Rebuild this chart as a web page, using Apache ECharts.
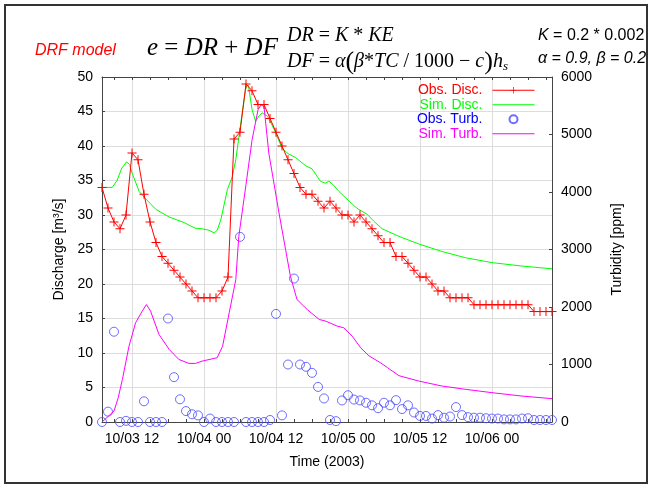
<!DOCTYPE html>
<html>
<head>
<meta charset="utf-8">
<script src="https://cdn.jsdelivr.net/npm/echarts@6/dist/echarts.min.js"></script>
<style>
  html, body { margin: 0; padding: 0; background: #fff; }
  #chart { width: 653px; height: 490px; }
</style>
</head>
<body>
<div id="chart"></div>
<script>
// Time axis: hours counted from 2003-10-03 00:00
const firstObsHour = 7;

// Hourly observed discharge [m3/s], from 10/03 07:00
const obsDischarge = [
  34, 31, 29, 28, 30, 39, 38, 33, 29, 26, 24, 23, 22, 21, 20, 19, 18, 18, 18, 18,
  19, 21, 41, 42, 49, 48, 46, 46, 44, 42, 40, 38, 36, 34, 33, 33, 32, 31, 32, 31,
  30, 30, 29, 30, 29, 28, 27, 26, 26, 24, 24, 23, 22, 21, 21, 20, 19, 19, 18, 18,
  18, 18, 17, 17, 17, 17, 17, 17, 17, 17, 17, 17, 16, 16, 16, 16
];

// Hourly observed turbidity [ppm], from 10/03 07:00
const obsTurbidity = [
  0, 180, 1570, 0, 20, 0, 0, 360, 0, 0, 0, 1800, 780, 395, 190, 135, 115, 0, 60, 0,
  0, 0, 0, 3220, 0, 0, 0, 0, 35, 1880, 115, 1000, 2495, 1000, 960, 855, 610, 410, 35, 15,
  375, 465, 390, 375, 335, 290, 240, 335, 290, 380, 225, 290, 165, 105, 105, 60, 120, 75, 95, 260,
  120, 85, 75, 75, 65, 60, 60, 45, 45, 45, 60, 65, 35, 35, 35, 35
];

// Simulated discharge [hour, m3/s]
const simDischarge = [
  [7, 34], [8.7, 34], [9.5, 35], [10.3, 36.8], [11.1, 37.7], [11.6, 37.3], [12, 36.1], [13.2, 33.4],
  [14, 32.6], [15, 31.7], [16, 30.8], [18.2, 29.7], [20.7, 28.9], [21.8, 28.4], [22.5, 28.1],
  [23.7, 28.0], [24.8, 27.8], [25.7, 27.4], [26.2, 27.8], [26.8, 29.3], [27.9, 33.7], [28.7, 35.5],
  [29.3, 38], [29.8, 41.2], [30.4, 45], [31, 48.6], [31.4, 48.8], [32, 45.3], [32.6, 43.6],
  [33.2, 44.4], [33.7, 44.8], [34.6, 44.3], [35.7, 42.4], [37, 39.7], [38, 38.9], [39.3, 38.3],
  [41, 37.1], [42, 36.7], [43.4, 34.9], [44.2, 34.6], [44.8, 34.9], [45.5, 34.4], [46.5, 33.4],
  [48.2, 32.0], [49.2, 31.2], [49.8, 30.8], [51.2, 30.1], [52.3, 29.1], [53.7, 28.0], [56.5, 26.9],
  [59.8, 25.8], [63.7, 24.7], [67.6, 23.8], [72, 23.1], [77, 22.6], [82, 22.2]
];

// Simulated turbidity [hour, ppm]
const simTurbidity = [
  [7, 0], [7.5, 47], [9, 191], [9.7, 420], [10.4, 741], [11.5, 1319], [12.6, 1726], [13.7, 1927],
  [14.4, 2043], [15.1, 1927], [16.5, 1522], [18.2, 1262], [19.8, 1088], [21.5, 1019], [22.6, 1019],
  [23.7, 1059], [26.2, 1118], [27.1, 1319], [28.2, 1899], [29.3, 2477], [29.8, 3229], [31, 4130],
  [32, 4900], [33, 5429], [33.5, 5516], [34, 5486], [34.8, 4677], [36.5, 3635], [37.6, 2998],
  [38.4, 2535], [39.5, 2130], [41.2, 1956], [43.2, 1783], [44.3, 1754], [46.2, 1667], [47.3, 1639],
  [48.7, 1493], [50.1, 1292], [51.5, 1150], [53.4, 1031], [54.6, 944], [56.5, 805], [59.8, 712],
  [63.7, 625], [67.6, 568], [72, 510], [77, 451], [82, 406]
];

// Labelled times and their text
const timeTicks = [12, 24, 36, 48, 60, 72];
const timeLabels = ['10/03 12', '10/04 00', '10/04 12', '10/05 00', '10/05 12', '10/06 00'];
// Small ticks every three hours
const minorTimeTicks = [9, 12, 15, 18, 21, 24, 27, 30, 33, 36, 39, 42, 45, 48, 51, 54, 57, 60, 63, 66, 69, 72, 75, 78, 81];

const seriesNames = ['Obs. Disc.', 'Sim. Disc.', 'Obs. Turb.', 'Sim. Turb.'];
const seriesColors = ['#ff0000', '#00ff00', '#0000ff', '#ff00ff'];

const SANS = '"Liberation Sans", Arial, Helvetica, sans-serif';
const SERIF = '"Liberation Serif", "Times New Roman", serif';
const AXIS_COLOR = '#444';
const GRID_COLOR = '#dddddd';
const CIRCLE_COLOR = '#4848ff';

const withHours = values => values.map((v, i) => [firstObsHour + i, v]);

const chart = echarts.init(document.getElementById('chart'), null, { renderer: 'canvas' });

const labelStyle = { color: '#000', fontSize: 14, fontFamily: SANS };
const nameStyle = { color: '#000', fontSize: 14, fontFamily: SANS };

const serifRich = size => ({
  i: { fontFamily: SERIF, fontStyle: 'italic', fontSize: size, fill: '#000' },
  n: { fontFamily: SERIF, fontSize: size, fill: '#000' },
  p: { fontFamily: SERIF, fontSize: size + 6, fill: '#000' },
  s: { fontFamily: SERIF, fontStyle: 'italic', fontSize: size - 7, fill: '#000', padding: [10, 0, 0, 0] }
});

// Legend entries: line-only entries hide the marker in their icon
const legendItems = seriesNames.map((name, i) => {
  const item = { name, textStyle: { color: seriesColors[i] } };
  if (i === 1 || i === 3) item.itemStyle = { opacity: 0 };
  return item;
});

const option = {
  animation: false,
  backgroundColor: '#fff',
  grid: { left: 102, right: 101, top: 77, bottom: 68, containLabel: false },
  legend: {
    orient: 'vertical',
    align: 'right',
    right: 118,
    top: 83,
    padding: 0,
    itemGap: 0,
    itemWidth: 42,
    itemHeight: 8,
    lineStyle: { width: 1 },
    textStyle: { fontSize: 14, fontFamily: SANS, lineHeight: 14.5, padding: [0, 5, 0, 0] },
    data: legendItems
  },
  xAxis: [
    {
      type: 'value', min: 7, max: 82, position: 'bottom',
      axisLine: { show: true, onZero: false, lineStyle: { color: AXIS_COLOR, width: 1 } },
      axisTick: { show: false, customValues: timeTicks },
      axisLabel: {
        customValues: timeTicks, margin: 10, ...labelStyle,
        formatter: v => timeLabels[timeTicks.indexOf(v)] || ''
      },
      splitLine: { show: true, lineStyle: { color: GRID_COLOR, width: 1 } },
      name: 'Time (2003)', nameLocation: 'middle', nameGap: 33, nameTextStyle: nameStyle
    },
    {
      type: 'value', min: 7, max: 82, position: 'bottom',
      axisLine: { show: false, onZero: false },
      axisTick: { show: true, inside: true, length: 3, customValues: minorTimeTicks, lineStyle: { color: AXIS_COLOR } },
      axisLabel: { show: false }, splitLine: { show: false }
    },
    {
      type: 'value', min: 7, max: 82, position: 'top',
      axisLine: { show: true, onZero: false, lineStyle: { color: AXIS_COLOR, width: 1 } },
      axisTick: { show: true, inside: true, length: 3, customValues: minorTimeTicks, lineStyle: { color: AXIS_COLOR } },
      axisLabel: { show: false }, splitLine: { show: false }
    }
  ],
  yAxis: [
    {
      type: 'value', min: 0, max: 50, interval: 5, position: 'left',
      axisLine: { show: true, onZero: false, lineStyle: { color: AXIS_COLOR, width: 1 } },
      axisTick: { show: true, inside: true, length: 3, lineStyle: { color: AXIS_COLOR } },
      axisLabel: { margin: 9, ...labelStyle },
      splitLine: { show: true, lineStyle: { color: GRID_COLOR, width: 1 } },
      name: 'Discharge [m³/s]', nameLocation: 'middle', nameGap: 32, nameRotate: 90, nameTextStyle: nameStyle
    },
    {
      type: 'value', min: 0, max: 6000, interval: 1000, position: 'right',
      axisLine: { show: true, onZero: false, lineStyle: { color: AXIS_COLOR, width: 1 } },
      axisTick: { show: true, inside: true, length: 3, lineStyle: { color: AXIS_COLOR } },
      axisLabel: { margin: 9, ...labelStyle, formatter: v => String(v) },
      splitLine: { show: false },
      name: 'Turbidity [ppm]', nameLocation: 'middle', nameGap: 58, nameRotate: 90, nameTextStyle: nameStyle
    }
  ],
  series: [
    {
      name: seriesNames[0], type: 'line', xAxisIndex: 0, yAxisIndex: 0,
      data: withHours(obsDischarge),
      color: seriesColors[0],
      symbol: 'path://M0,4.45h10v1.1h-10z M4.45,0h1.1v10h-1.1z',
      symbolSize: 9, showAllSymbol: true,
      itemStyle: { color: seriesColors[0], borderWidth: 0 },
      lineStyle: { color: seriesColors[0], width: 1 },
      z: 4
    },
    {
      name: seriesNames[1], type: 'line', xAxisIndex: 0, yAxisIndex: 0,
      data: simDischarge, color: seriesColors[1],
      symbol: 'none', lineStyle: { color: seriesColors[1], width: 1 },
      z: 3
    },
    {
      name: seriesNames[2], type: 'scatter', xAxisIndex: 0, yAxisIndex: 1,
      data: withHours(obsTurbidity), color: seriesColors[2],
      symbol: 'circle', symbolSize: 9,
      itemStyle: { color: 'rgba(0,0,0,0)', borderColor: CIRCLE_COLOR, borderWidth: 1 },
      z: 2
    },
    {
      name: seriesNames[3], type: 'line', xAxisIndex: 0, yAxisIndex: 1,
      data: simTurbidity, color: seriesColors[3],
      symbol: 'none', lineStyle: { color: seriesColors[3], width: 1 },
      z: 3
    }
  ],
  graphic: [
    {
      type: 'rect', silent: true, z: -10,
      shape: { x: 5, y: 5, width: 642, height: 478 },
      style: { fill: 'none', stroke: '#333', lineWidth: 2 }
    },
    {
      type: 'text', x: 35, y: 51, silent: true,
      style: { text: 'DRF model', fill: '#ff0000', font: 'italic 16px ' + SANS, verticalAlign: 'middle' }
    },
    {
      type: 'text', x: 147, y: 48, silent: true,
      style: {
        text: '{i|e}{n| = }{i|DR}{n| + }{i|DF}',
        rich: serifRich(25), verticalAlign: 'middle'
      }
    },
    {
      type: 'text', x: 287, y: 36, silent: true,
      style: {
        text: '{i|DR}{n| = }{i|K}{n| * }{i|KE}',
        rich: serifRich(20), verticalAlign: 'middle'
      }
    },
    {
      type: 'text', x: 287, y: 62, silent: true,
      style: {
        text: '{i|DF}{n| = }{i|α}{p|(}{i|β}{n|*}{i|TC}{n| / 1000 − }{i|c}{p|)}{i|h}{s|s}',
        rich: serifRich(20), verticalAlign: 'middle'
      }
    },
    {
      type: 'text', x: 538, y: 36, silent: true,
      style: {
        text: '{i|K}{n| = 0.2 * 0.002}',
        rich: {
          i: { fontFamily: SANS, fontStyle: 'italic', fontSize: 16, fill: '#000' },
          n: { fontFamily: SANS, fontSize: 16, fill: '#000' }
        },
        verticalAlign: 'middle'
      }
    },
    {
      type: 'text', x: 538, y: 59, silent: true,
      style: { text: 'α = 0.9, β = 0.2', fill: '#000', font: 'italic 16px ' + SANS, verticalAlign: 'middle' }
    }
  ]
};

chart.setOption(option);
</script>
</body>
</html>
